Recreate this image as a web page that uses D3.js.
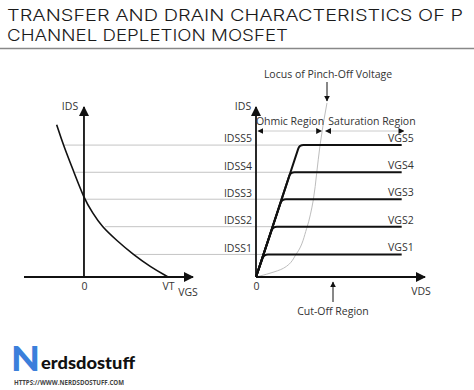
<!DOCTYPE html>
<html>
<head>
<meta charset="utf-8">
<script src="https://cdn.jsdelivr.net/npm/d3@7"></script>
<style>
  body { margin: 0; background: #fff; }
  svg { display: block; }
  .lbl { font-family: "Open Sans", sans-serif; font-size: 10.5px; fill: #333; }
</style>
</head>
<body>
<div id="chart"></div>
<script>
// ---- data ----
var titleLines = ["TRANSFER AND DRAIN CHARACTERISTICS OF P", "CHANNEL DEPLETION MOSFET"];

// saturation current levels (shared by both panels)
var idssLabels = ["IDSS1", "IDSS2", "IDSS3", "IDSS4", "IDSS5"];
var vgsLabels = ["VGS1", "VGS2", "VGS3", "VGS4", "VGS5"];
var idsLevels = [0.83, 1.85, 2.86, 3.85, 4.85];

// transfer curve (left panel)
var transferVgs = [-0.975, -0.74, -0.36, 0.01, 0.31, 0.63, 1.17, 1.75, 2.36, 3.0];
var transferIds = [5.60, 4.86, 3.86, 2.87, 2.35, 1.86, 1.34, 0.83, 0.38, 0];
// where each IDSS guide line leaves the transfer curve
var idssStartVgs = [1.75, 0.75, 0.01, -0.36, -0.74];
var vgsTicks = [0, 3];
var vgsTickLabels = ["0", "VT"];

// drain curves (right panel): VDS where each curve saturates
var kneeVds = [0.47, 1.0, 1.53, 2.04, 2.57];
var drainEndVds = 8.62;

// locus of pinch-off voltage
var locusVds = [0, 0.83, 1.62, 2.41, 3.0, 3.39, 3.59, 3.79, 3.97, 4.2];
var locusIds = [0, 0.14, 0.32, 0.87, 1.79, 2.83, 3.81, 4.85, 5.59, 6.4];

var svgWidth = 474, svgHeight = 390;

var svg = d3.select("#chart").append("svg")
    .attr("width", svgWidth)
    .attr("height", svgHeight);

var defs = svg.append("defs");
defs.append("marker")
    .attr("id", "arrow")
    .attr("viewBox", "0 0 10 10")
    .attr("refX", 9).attr("refY", 5)
    .attr("markerWidth", 10).attr("markerHeight", 10)
    .attr("markerUnits", "userSpaceOnUse")
    .attr("orient", "auto-start-reverse")
    .append("path")
    .attr("d", "M0,0 L10,5 L0,10 Z")
    .attr("fill", "#111");
defs.append("marker")
    .attr("id", "arrowSmall")
    .attr("viewBox", "0 0 10 10")
    .attr("refX", 9).attr("refY", 5)
    .attr("markerWidth", 6).attr("markerHeight", 6)
    .attr("markerUnits", "userSpaceOnUse")
    .attr("orient", "auto-start-reverse")
    .append("path")
    .attr("d", "M0,0 L10,5 L0,10 Z")
    .attr("fill", "#111");

// ---- title ----
svg.selectAll("text.title")
    .data(titleLines)
    .enter()
    .append("text")
    .attr("class", "title")
    .attr("x", 7)
    .attr("y", function(d, i) { return 20.5 + i * 20.7; })
    .attr("textLength", function(d, i) { return i === 0 ? 456 : 281; })
    .attr("lengthAdjust", "spacingAndGlyphs")
    .style("font-family", "Inter, 'Open Sans', sans-serif")
    .style("font-size", "16.5px")
    .style("font-weight", 300)
    .style("fill", "#1a1a1a")
    .text(function(d) { return d; });

svg.append("line")
    .attr("x1", 0).attr("x2", svgWidth)
    .attr("y1", 48.5).attr("y2", 48.5)
    .attr("stroke", "#888")
    .attr("stroke-width", 1.5);

// ---- scales ----
var yScale = d3.scaleLinear().domain([0, 6.25]).range([277, 107]);
var xLeft = d3.scaleLinear().domain([-2.14, 3.89]).range([24, 193]);
var xRight = d3.scaleLinear().domain([0, 10]).range([256, 425]);

var guides = svg.append("g");
var curves = svg.append("g");
var axes = svg.append("g");

// IDSS guide lines from the transfer curve to the drain curve knees
guides.selectAll("line")
    .data(idsLevels)
    .enter()
    .append("line")
    .attr("x1", function(d, i) { return xLeft(idssStartVgs[i]); })
    .attr("x2", function(d, i) { return xRight(kneeVds[i]); })
    .attr("y1", function(d) { return yScale(d); })
    .attr("y2", function(d) { return yScale(d); })
    .attr("stroke", "#c4c4c4")
    .attr("stroke-width", 1);

// locus of pinch-off
var locusData = locusVds.map(function(v, i) { return [v, locusIds[i]]; });
guides.append("path")
    .datum(locusData)
    .attr("d", d3.line()
        .x(function(d) { return xRight(d[0]); })
        .y(function(d) { return yScale(d[1]); })
        .curve(d3.curveMonotoneY))
    .attr("fill", "none")
    .attr("stroke", "#bdbdbd")
    .attr("stroke-width", 1);

// transfer curve
var transferData = transferVgs.map(function(v, i) { return [v, transferIds[i]]; });
curves.append("path")
    .datum(transferData)
    .attr("d", d3.line()
        .x(function(d) { return xLeft(d[0]); })
        .y(function(d) { return yScale(d[1]); })
        .curve(d3.curveBasis))
    .attr("fill", "none")
    .attr("stroke", "#111")
    .attr("stroke-width", 1.6);

// drain curves: straight rise from the origin, small rounded knee, flat saturation
function drainPath(lvl, i) {
    var x0 = xRight(0), y0 = yScale(0);
    var xk = xRight(kneeVds[i]), yk = yScale(lvl);
    var dx = xk - x0, dy = yk - y0;
    var len = Math.sqrt(dx * dx + dy * dy);
    var r = 4;
    var p = d3.path();
    p.moveTo(x0, y0);
    p.lineTo(xk - dx / len * r, yk - dy / len * r);
    p.quadraticCurveTo(xk, yk, xk + r, yk);
    p.lineTo(xRight(drainEndVds), yk);
    return p.toString();
}

curves.selectAll("path.drain")
    .data(idsLevels)
    .enter()
    .append("path")
    .attr("class", "drain")
    .attr("d", drainPath)
    .attr("fill", "none")
    .attr("stroke", "#111")
    .attr("stroke-width", 2);

// ---- axes (left panel) ----
var leftX = d3.axisBottom(xLeft)
    .tickValues(vgsTicks)
    .tickSize(0)
    .tickPadding(6)
    .tickFormat(function(d, i) { return vgsTickLabels[i]; });
var gLX = axes.append("g")
    .attr("transform", "translate(0," + yScale(0) + ")")
    .call(leftX);
gLX.select(".domain").remove();
gLX.selectAll("text").attr("class", "lbl").style("font-size", "10.5px");

axes.append("line")
    .attr("x1", 24).attr("x2", 193)
    .attr("y1", yScale(0)).attr("y2", yScale(0))
    .attr("stroke", "#111").attr("stroke-width", 1.8)
    .attr("marker-end", "url(#arrow)");
axes.append("line")
    .attr("x1", xLeft(0)).attr("x2", xLeft(0))
    .attr("y1", yScale(0)).attr("y2", 107)
    .attr("stroke", "#111").attr("stroke-width", 1.8)
    .attr("marker-end", "url(#arrow)");

axes.append("text").attr("class", "lbl")
    .attr("x", 70).attr("y", 110).attr("text-anchor", "middle").text("IDS");
axes.append("text").attr("class", "lbl")
    .attr("x", 188).attr("y", 296).attr("text-anchor", "middle").text("VGS");

// ---- axes (right panel) ----
var rightY = d3.axisLeft(yScale)
    .tickValues(idsLevels)
    .tickSize(0)
    .tickPadding(4)
    .tickFormat(function(d, i) { return idssLabels[i]; });
var gRY = axes.append("g")
    .attr("transform", "translate(" + xRight(0) + ",0)")
    .call(rightY);
gRY.select(".domain").remove();
gRY.selectAll("text").attr("class", "lbl").attr("dy", "-0.3em").style("font-size", "10.5px");

var rightX = d3.axisBottom(xRight)
    .tickValues([0])
    .tickSize(0)
    .tickPadding(6)
    .tickFormat(d3.format("d"));
var gRX = axes.append("g")
    .attr("transform", "translate(0," + yScale(0) + ")")
    .call(rightX);
gRX.select(".domain").remove();
gRX.selectAll("text").attr("class", "lbl").style("font-size", "10.5px");

axes.append("line")
    .attr("x1", xRight(0)).attr("x2", 425)
    .attr("y1", yScale(0)).attr("y2", yScale(0))
    .attr("stroke", "#111").attr("stroke-width", 1.8)
    .attr("marker-end", "url(#arrow)");
axes.append("line")
    .attr("x1", xRight(0)).attr("x2", xRight(0))
    .attr("y1", yScale(0)).attr("y2", 107)
    .attr("stroke", "#111").attr("stroke-width", 1.8)
    .attr("marker-end", "url(#arrow)");

axes.append("text").attr("class", "lbl")
    .attr("x", 243).attr("y", 110).attr("text-anchor", "middle").text("IDS");
axes.append("text").attr("class", "lbl")
    .attr("x", 421).attr("y", 295).attr("text-anchor", "middle").text("VDS");

// VGS labels at the right end of each drain curve
axes.selectAll("text.vgs")
    .data(idsLevels)
    .enter()
    .append("text")
    .attr("class", "lbl vgs")
    .attr("x", xRight(drainEndVds) + 12)
    .attr("y", function(d) { return yScale(d) - 3; })
    .attr("text-anchor", "end")
    .text(function(d, i) { return vgsLabels[i]; });

// ---- region annotations ----
var regY = 131;
var pinchX = xRight(4.0);
axes.append("line")
    .attr("x1", xRight(0) + 2).attr("x2", pinchX - 2)
    .attr("y1", regY).attr("y2", regY)
    .attr("stroke", "#ccc").attr("stroke-width", 1)
    .attr("marker-start", "url(#arrowSmall)")
    .attr("marker-end", "url(#arrowSmall)");
axes.append("line")
    .attr("x1", pinchX + 2).attr("x2", xRight(8.75))
    .attr("y1", regY).attr("y2", regY)
    .attr("stroke", "#ccc").attr("stroke-width", 1)
    .attr("marker-start", "url(#arrowSmall)")
    .attr("marker-end", "url(#arrowSmall)");
axes.append("text").attr("class", "lbl")
    .attr("x", 290).attr("y", 124.5).attr("text-anchor", "middle").text("Ohmic Region");
axes.append("text").attr("class", "lbl")
    .attr("x", 372).attr("y", 124.5).attr("text-anchor", "middle").text("Saturation Region");

axes.append("text").attr("class", "lbl")
    .attr("x", 328).attr("y", 78).attr("text-anchor", "middle").text("Locus of Pinch-Off Voltage");
axes.append("line")
    .attr("x1", 327).attr("x2", 327)
    .attr("y1", 82).attr("y2", 101)
    .attr("stroke", "#111").attr("stroke-width", 1)
    .attr("marker-end", "url(#arrowSmall)");

axes.append("line")
    .attr("x1", 333).attr("x2", 333)
    .attr("y1", 302).attr("y2", 282)
    .attr("stroke", "#111").attr("stroke-width", 1)
    .attr("marker-end", "url(#arrowSmall)");
axes.append("text").attr("class", "lbl")
    .attr("x", 333).attr("y", 315).attr("text-anchor", "middle").text("Cut-Off Region");

// ---- logo ----
var logo = svg.append("g");
logo.append("text")
    .attr("x", 11).attr("y", 370.5)
    .attr("textLength", 29)
    .attr("lengthAdjust", "spacingAndGlyphs")
    .style("font-family", "Lato, sans-serif")
    .style("font-weight", 900)
    .style("font-size", "35px")
    .style("fill", "#3b7fdb")
    .text("N");
logo.append("text")
    .attr("x", 41).attr("y", 369)
    .attr("textLength", 94)
    .attr("lengthAdjust", "spacingAndGlyphs")
    .style("font-family", "Lato, sans-serif")
    .style("font-weight", 900)
    .style("font-size", "17px")
    .style("fill", "#111")
    .text("erdsdostuff");
logo.append("text")
    .attr("x", 14).attr("y", 385)
    .attr("textLength", 110)
    .attr("lengthAdjust", "spacingAndGlyphs")
    .style("font-family", "'Open Sans', sans-serif")
    .style("font-weight", 700)
    .style("font-size", "6.5px")
    .style("fill", "#444")
    .text("HTTPS://WWW.NERDSDOSTUFF.COM");
</script>
</body>
</html>
